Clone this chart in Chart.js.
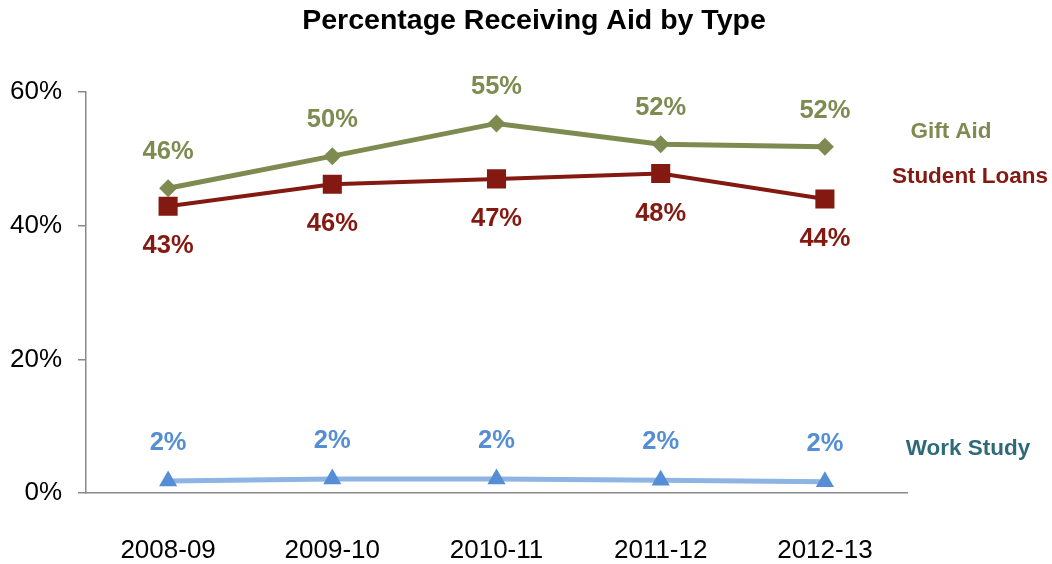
<!DOCTYPE html>
<html>
<head>
<meta charset="utf-8">
<script src="https://cdn.jsdelivr.net/npm/chart.js@4"></script>
<style>
  html, body { margin: 0; padding: 0; background: #fff; }
  #wrap { width: 1052px; height: 564px; position: relative; }
</style>
</head>
<body>
<div id="wrap"><canvas id="aidChart"></canvas></div>
<script>
// values (percent)
const years = ["2008-09", "2009-10", "2010-11", "2011-12", "2012-13"];
const giftAid = [45.6, 50.4, 55.3, 52.2, 51.8];
const studentLoans = [42.9, 46.2, 47.0, 47.8, 44.0];
const workStudy = [1.8, 2.1, 2.1, 1.9, 1.7];
const yTicks = [0, 20, 40, 60];
const chartTitle = "Percentage Receiving Aid by Type";

const FONT = "'Liberation Sans', Arial, sans-serif";

// draws title, value labels next to points and the series names on the right
const labelPlugin = {
    id: "aidLabels",
    afterDatasetsDraw(chart) {
        const ctx = chart.ctx;
        const area = chart.chartArea;
        const y = chart.scales.y;
        ctx.save();
        ctx.textAlign = "center";
        ctx.textBaseline = "middle";

        ctx.fillStyle = "#000";
        ctx.font = "bold 28.5px " + FONT;
        ctx.fillText(chartTitle, 534, 21);

        chart.data.datasets.forEach((ds, i) => {
            const meta = chart.getDatasetMeta(i);
            ctx.fillStyle = ds.labelColor;
            ctx.font = "bold 25.5px " + FONT;
            meta.data.forEach((pt, j) => {
                ctx.fillText(Math.round(ds.data[j]) + "%", pt.x, pt.y + ds.labelOffset);
            });
            ctx.fillStyle = ds.nameColor;
            ctx.font = "bold 22.5px " + FONT;
            ctx.fillText(ds.label, area.right + ds.nameDx, y.getPixelForValue(ds.nameAt));
        });
        ctx.restore();
    }
};

new Chart(document.getElementById("aidChart").getContext("2d"), {
    type: "line",
    data: {
        labels: years,
        datasets: [
            {
                label: "Gift Aid",
                data: giftAid,
                borderColor: "#7D8B51",
                backgroundColor: "#7D8B51",
                borderWidth: 5,
                pointStyle: "rectRot",
                pointRadius: 9,
                pointBorderWidth: 0,
                labelColor: "#7D8B51",
                labelOffset: -36,
                nameColor: "#7D8B51",
                nameAt: 54,
                nameDx: 44
            },
            {
                label: "Student Loans",
                data: studentLoans,
                borderColor: "#841911",
                backgroundColor: "#841911",
                borderWidth: 4,
                pointStyle: "rect",
                pointRadius: 13.5,
                pointBorderWidth: 0,
                labelColor: "#841911",
                labelOffset: 40,
                nameColor: "#841911",
                nameAt: 47.3,
                nameDx: 63
            },
            {
                label: "Work Study",
                data: workStudy,
                borderColor: "#8DB4E2",
                backgroundColor: "#558ED5",
                borderWidth: 5,
                pointStyle: "triangle",
                pointRadius: 10.5,
                pointBorderWidth: 0,
                labelColor: "#558ED5",
                labelOffset: -38,
                nameColor: "#2F6A7B",
                nameAt: 6.6,
                nameDx: 61
            }
        ]
    },
    options: {
        responsive: true,
        maintainAspectRatio: false,
        animation: false,
        elements: { line: { tension: 0 } },
        layout: { padding: { top: 92, right: 145, left: 8, bottom: 0 } },
        plugins: {
            legend: { display: false },
            tooltip: { enabled: false },
            title: { display: false }
        },
        scales: {
            x: {
                offset: true,
                afterFit: s => { s.height = 71; },
                grid: { display: false },
                border: { display: true, color: "#898989", width: 1.5 },
                ticks: {
                    color: "#000",
                    font: { family: FONT, size: 26 },
                    padding: 34,
                    maxRotation: 0
                }
            },
            y: {
                min: 0,
                max: 60,
                afterFit: s => { s.width = 78; },
                afterBuildTicks: axis => { axis.ticks = yTicks.map(v => ({ value: v })); },
                grid: { drawOnChartArea: false, drawTicks: true, tickLength: 8, color: "#898989", lineWidth: 1.5 },
                border: { display: true, color: "#898989", width: 1.5 },
                ticks: {
                    color: "#000",
                    font: { family: FONT, size: 26 },
                    padding: 16,
                    callback: v => v + "%"
                }
            }
        }
    },
    plugins: [labelPlugin]
});
</script>
</body>
</html>
